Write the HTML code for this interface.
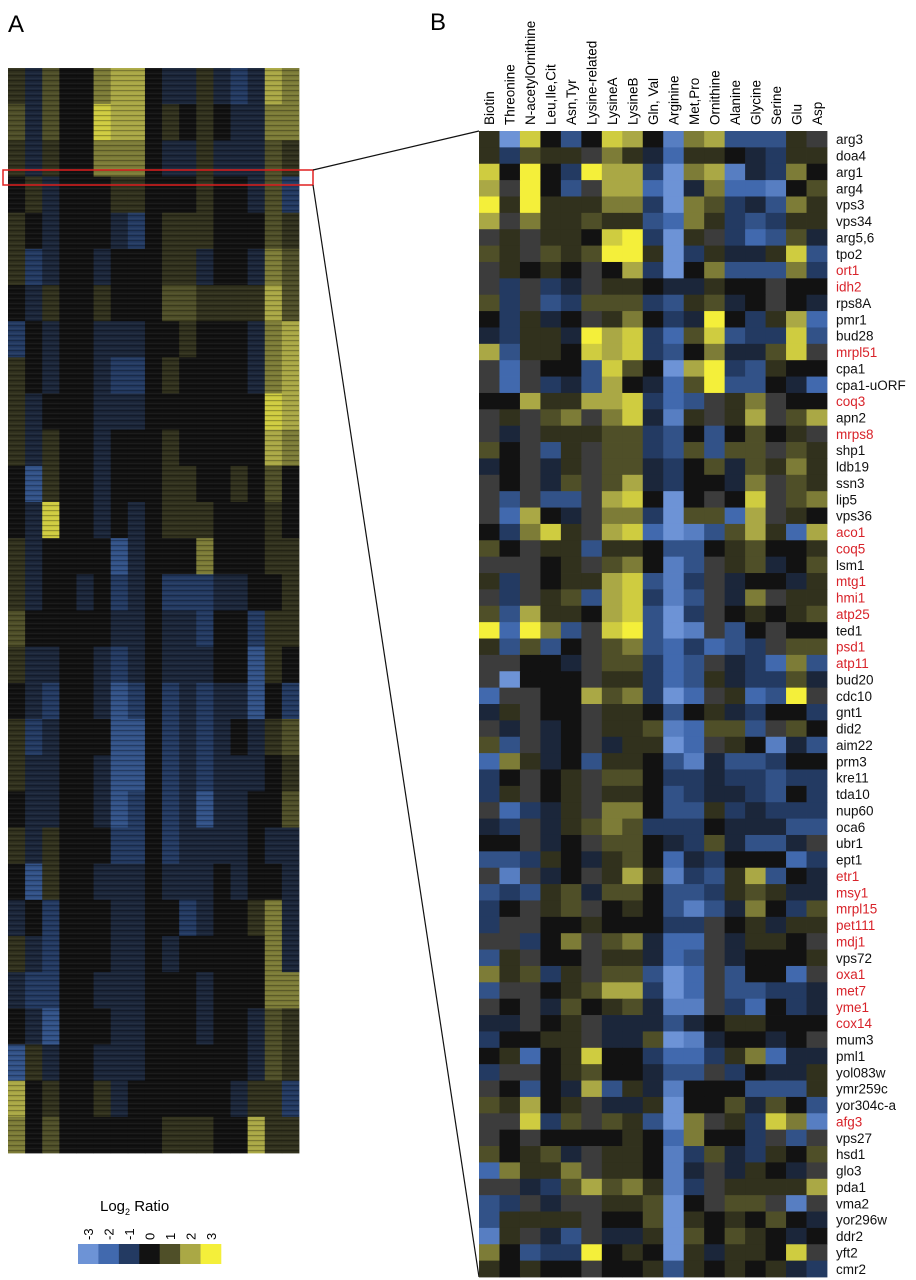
<!DOCTYPE html>
<html><head><meta charset="utf-8"><style>
body{margin:0;background:#fff;width:916px;height:1280px;overflow:hidden;font-family:"Liberation Sans",sans-serif}
svg{position:absolute;left:0;top:0}
</style></head><body>
<svg id="chart" width="916" height="1280" viewBox="0 0 916 1280">
<defs><pattern id="stripes" width="4" height="5" patternUnits="userSpaceOnUse"><rect x="0" y="0" width="4" height="1.2" fill="#000" opacity="0.28"/><rect x="0" y="3" width="4" height="0.8" fill="#fff" opacity="0.05"/></pattern></defs>
<text x="8" y="32" font-size="24">A</text>
<text x="430" y="30" font-size="24">B</text>
<g id="panelA"></g>
<rect x="8" y="68" width="291" height="1085" fill="url(#stripes)"/>
<rect x="3" y="170" width="310" height="15" fill="none" stroke="#e02020" stroke-width="1.5"/>
<line x1="313" y1="170" x2="479" y2="131" stroke="#111" stroke-width="1.2"/>
<line x1="313" y1="185" x2="479" y2="1277" stroke="#111" stroke-width="1.2"/>
<g id="panelB"></g>
<g id="colLabels"></g>
<g id="rowLabels"></g>
<g id="legend">
<text x="100" y="1211" font-size="15">Log<tspan font-size="9" dy="4">2</tspan><tspan dy="-4"> Ratio</tspan></text>
</g>
</svg>
<script>
const columns = ["Biotin","Threonine","N-acetylOrnithine","Leu,Ile,Cit","Asn,Tyr","Lysine-related","LysineA","LysineB","Gln, Val","Arginine","Met,Pro","Ornithine","Alanine","Glycine","Serine","Glu","Asp"];
const genes = ["arg3","doa4","arg1","arg4","vps3","vps34","arg5,6","tpo2","ort1","idh2","rps8A","pmr1","bud28","mrpl51","cpa1","cpa1-uORF","coq3","apn2","mrps8","shp1","ldb19","ssn3","lip5","vps36","aco1","coq5","lsm1","mtg1","hmi1","atp25","ted1","psd1","atp11","bud20","cdc10","gnt1","did2","aim22","prm3","kre11","tda10","nup60","oca6","ubr1","ept1","etr1","msy1","mrpl15","pet111","mdj1","vps72","oxa1","met7","yme1","cox14","mum3","pml1","yol083w","ymr259c","yor304c-a","afg3","vps27","hsd1","glo3","pda1","vma2","yor296w","ddr2","yft2","cmr2"];
const redGenes = ["ort1","idh2","mrpl51","coq3","mrps8","aco1","coq5","mtg1","hmi1","atp25","psd1","atp11","etr1","msy1","mrpl15","pet111","mdj1","oxa1","met7","yme1","cox14","afg3"];
// value codes: A=-3 ... G=0 ... M=3 (0.5 steps), x = missing
const valuesB = [
"HALGDGLKGBJKDDDHx","HEIHHxJHFCHHGFEHH","LGMGEMKKEAJKBFEJG","KxMGDxKKCAFJCCBGI","MHMHHHJJEAJIEFDJH",
"KxJHHIHHDCJHEDEHH","xHxHHGLMEAHxECDIF","IHxIHIMMHAEHFFHLD","xHGHGxGKEAGJDDDJE","xExEFxHHGFFHGGxGG",
"IExDEIIIEDHIFGxGF","GEHFGxHJGEFMGEHKC","FEHHFMKLECILDEELD","KDHHGLKLEDGJFFILx","xCxGGDLIGAKMEDHGG",
"xCxEFDKGFCIMDDGFC","GGKHHKKLECDxHJxGG","xHxIJxJLFBHxHKxIK","xFxHHHIIEDGDGIGHx","IGxDHxIIEDIDIIxIH",
"FGxFHxIIFEGIFIHJH","xGxFIxIKFEGGFJxIH","xDxDDxKLGAGxGLxIJ","xCKGFxJJEAIICKxHG","GEJLHxKLCABDIKHCK",
"IGxHHDHHGDDGHIGGH","xxxGHxIJGBDxHIFGI","HExGHHKLDBExFGGFH","xExHIDKLEBDxFJxHH","IDKHHGKLDAExGHGHI",
"MCMJDxLMDABxDGxGG","HDIDGxIJDCECDExII","xxGGFxIIECDxFECJD","xAGGGxHHECDHFEEIF","CxxGGKIJEACxHCDMx",
"FHxGGxHHGDGHFEGGE","xFxFGxHHIBCIIDxIG","IDxFGxFHHACxHGBFD","CJHFGDHHGDBFDDEGG","EGxGHxIIGEEFEEDEE",
"EHxGHxHHGDEFFEDGE","xCEFHxJJGDDHEFEEE","FExFHIJIEEEGFFFDD","GGxFGxIIGFEIFDDFx","DDEHGFHIGCFEGGGCE",
"xBxFGxHKHBEDHKDGF","DEDHIFIIGDDEHIHFF","EGxHIxGHGDBDFJGEI","ExxGGHGGGEExGHFHH","xxEGJxIJFCCxFHHGx",
"DHxGGxHHFCDxFGGGH","JHIEHxIIDACxDGGCx","DxxGHIKKEACxDDEEF","xGxFIGHIFBBxECGEF","FFxGHxFFFDFGHHGGG",
"EGGHHxFFIABFGGFGx","GHCGHLGGECCEHJCFF","ExxGHIGGFDDxEGFFH","xGDGFKDHFBGGGDDDH","IHKGHxFFHAGGIFIGD",
"xxLEIxIHDAJxHELJB","xGxGGGGHGCJGGExDx","IGHIFxHHGBEIFEHGI","CJHHJxHHGBFxFHGFx","xxFEIKIJHBExHHHHK",
"DExFxxHHIAGxIIxBx","DHHHHxGGIAHGHGIGF","BHxFDxFFHAIGIHGFG","JGDEEMGHGAHFHHGLx","HGHGGxGGHDHGHGHFE"];
// Panel A: coarse bands (30 bands x 17 columns), same code
const valuesA = [
"HFIGGJKKGFFHFEFKJ","IFIGGLKKGHGHGFFJJ","HFHGGJJJGFFHFFFIH","GHFGGGHHGGGHGGFIE","HGFGGGFEGHHHGGGIH",
"HEFGGFGGGHHFGGFJI","GFHGGHGGGIIHHHHKI","EGFGGFFFGGHGGGFJK","HGFGGFEEGHGGGGFJK","HFGGGFFFGGGGGGGLK",
"HFHGGFGGGHGGGGGKJ","GDHGGFGGGHHGGHGIG","GFLGGFGFGHHHGGGHG","HFGGGGDFGGGJGGGHH","HFGGFGEFGEEEFFGGH",
"IGGGGGFFGFFEGGEHH","HFFGGFEFGFFFGGDHG","GFEGGFDEGEFEFFDGE","HEFGGGDDGEFEFGFHI","HFFGGFDDGEFEFFFGH",
"GFFGGFDEGEFDFFGGI","HFHGGGEEGEFFFFGFF","GDHGGFFFGFFFGFGGF","FGEGGGFFGGEFGGHJF","HFEGGGFFGFGGGGGJF",
"FEEGGFFFGGGFGGGJJ","GFDGGGFFGGGFGGFIH","DHFGGFFFGGGGGGFIH","KGHGGHFGGGGGGFHHE","JGIGGGGGGHHHGGKHH"];
const legendVals = [-3,-2,-1,0,1,2,3];

const stops = {"-3":[109,147,214],"-2":[65,105,174],"-1":[35,58,98],"0":[18,18,18],"1":[79,79,40],"2":[170,168,69],"3":[244,239,58]};
function color(code){
  if(code==='x') return '#3c3c3c';
  const v=(code.charCodeAt(0)-71)*0.5;
  const lo=Math.floor(v), hi=Math.ceil(v), t=v-lo;
  const a=stops[lo], b=stops[hi];
  const c=a.map((q,i)=>Math.round(q+(b[i]-q)*t));
  return `rgb(${c[0]},${c[1]},${c[2]})`;
}
const NS="http://www.w3.org/2000/svg";
function mk(tag,attrs,parent){const e=document.createElementNS(NS,tag);for(const k in attrs)e.setAttribute(k,attrs[k]);parent.appendChild(e);return e;}

// Panel B axes
const bX0=479,bX1=827,bY0=131,bY1=1277;
const bw=(bX1-bX0)/columns.length, bh=(bY1-bY0)/genes.length;
const xB=i=>bX0+i*bw, yB=j=>bY0+j*bh;
const gB=document.getElementById('panelB');
valuesB.forEach((row,j)=>{
  for(let i=0;i<columns.length;i++){
    const r=mk('rect',{x:xB(i),y:yB(j),width:bw+0.4,height:bh+0.4,fill:color(row[i])},gB);
    
    
  }
});
const gc=document.getElementById('colLabels');
columns.forEach((c,i)=>{
  const cx=xB(i)+bw/2+5;
  const t=mk('text',{x:0,y:0,'font-size':13.5,transform:`translate(${cx},125) rotate(-90)`},gc);
  t.textContent=c;
  
  
});
const gr=document.getElementById('rowLabels');
genes.forEach((g,j)=>{
  const t=mk('text',{x:836,y:yB(j)+bh/2+5,'font-size':13.5,fill:redGenes.includes(g)?'#d8232a':'#111'},gr);
  t.textContent=g;
  
  
});

// Panel A axes
const aX0=8,aX1=299,aY0=68,aY1=1153;
const aw=(aX1-aX0)/17, ah=(aY1-aY0)/valuesA.length;
const xA=i=>aX0+i*aw, yA=j=>aY0+j*ah;
const gA=document.getElementById('panelA');
valuesA.forEach((row,j)=>{
  for(let i=0;i<17;i++){
    const r=mk('rect',{x:xA(i),y:yA(j),width:aw+0.4,height:ah+0.4,fill:color(row[i])},gA);
    
    
  }
});

// Legend
const gl=document.getElementById('legend');
const lx0=78,lw=(221-78)/legendVals.length;
legendVals.forEach((v,i)=>{
  const code=String.fromCharCode(71+v*2);
  const r=mk('rect',{x:lx0+i*lw,y:1244,width:lw+0.3,height:20,fill:color(code)},gl);
  
  
  const t=mk('text',{x:0,y:0,'font-size':13,transform:`translate(${lx0+i*lw+lw/2+5},1240) rotate(-90)`},gl);
  t.textContent=String(v);
  
  
});
</script>
</body></html>
